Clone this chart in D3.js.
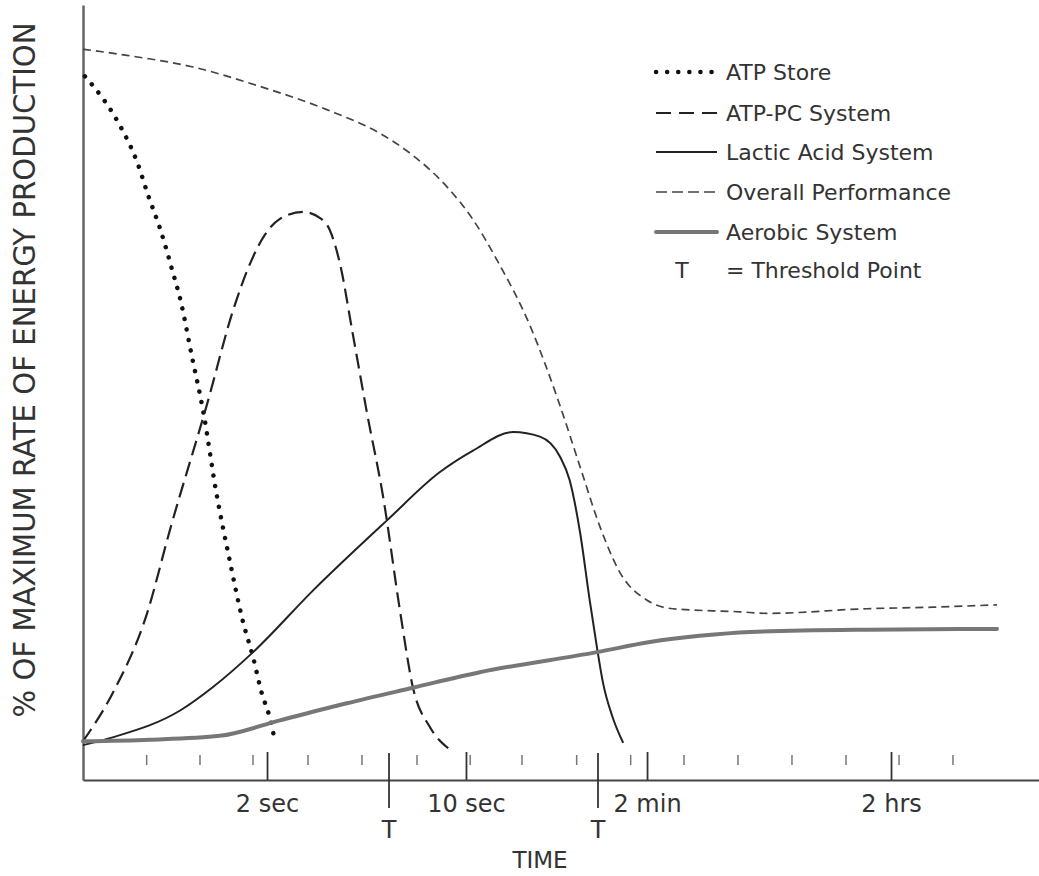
<!DOCTYPE html>
<html lang="en">
<head>
  <meta charset="UTF-8">
  <title>Energy Systems Over Time</title>
  <script src="https://d3js.org/d3.v7.min.js"></script>
  <style>
    body { margin: 0; background: #fff; }
    svg text { font-family: "DejaVu Sans", sans-serif; fill: #333; }
  </style>
</head>
<body>
  <svg id="chart" width="1039" height="876"></svg>
  <script>
    // time position (0-100 along the axis) and % of max rate (0-100)
    const atpStore = [
      [0.2, 90.8], [1.1, 89.5], [3.7, 84.8], [5.7, 79.6], [6.8, 75.5], [8.1, 71.0],
      [9.4, 65.5], [10.2, 61.9], [11.4, 54.6], [12.6, 47.4], [13.9, 37.4], [15.4, 28.0],
      [16.7, 20.6], [17.8, 15.8], [18.7, 11.2], [19.5, 8.2], [20.0, 5.5]
    ];
    const atpPc = [
      [0, 5.0], [3.1, 11.2], [6.7, 21.5], [9.1, 32.3], [13.0, 48.6],
      [15.7, 60.6], [17.5, 66.7], [19.0, 70.3], [20.6, 72.4], [23.0, 73.3], [24.8, 72.5],
      [25.8, 71.0], [26.9, 66.5], [28.2, 57.7], [29.7, 47.4], [31.4, 36.5], [33.2, 21.5],
      [34.5, 12.0], [36.3, 6.8], [38.2, 4.1]
    ];
    const lacticAcid = [
      [0, 4.5], [3.1, 5.5], [10.2, 9.0], [13.6, 12.0], [17.8, 16.5], [24.1, 24.5],
      [31.8, 33.5], [37.3, 39.7], [40.8, 42.5], [45.0, 44.9], [47.8, 44.3], [49.9, 41.7],
      [50.9, 38.7], [52.0, 31.9], [53.0, 23.2], [53.8, 16.8], [54.4, 12.5], [55.4, 8.1],
      [56.5, 4.8]
    ];
    const overall = [
      [0, 94.3], [4.6, 93.5], [11.5, 92.0], [18.5, 89.5], [25.5, 86.5], [31.1, 83.4],
      [34.5, 80.6], [38.1, 76.5], [40.8, 72.3], [43.3, 67.1], [46.8, 58.5], [49.7, 49.0],
      [52.0, 40.4], [54.1, 32.6], [56.2, 26.7], [59.0, 23.2], [61.7, 22.1], [68.7, 21.7],
      [71.6, 21.5], [82.0, 22.1], [88.9, 22.3], [95.6, 22.6]
    ];
    const aerobic = [
      [0, 5.0], [7.0, 5.2], [14.3, 5.7], [20.6, 7.7], [27.6, 9.9], [34.5, 11.9],
      [41.5, 13.9], [53.8, 16.5], [59.3, 17.8], [64.5, 18.6], [69.8, 19.1], [82.0, 19.4],
      [95.6, 19.5]
    ];

    const timeLabels = ["2 sec", "10 sec", "2 min", "2 hrs"];
    const timeTicks = [19.25, 40.06, 59.0, 84.52];
    const minorTicks = [6.66, 12.24, 17.78, 23.54, 29.18, 34.94, 40.5, 45.92, 51.64,
                        57.29, 62.87, 68.51, 74.16, 79.81, 85.36, 91.0];
    const thresholds = [32.01, 53.87];

    const series = [
      { name: "ATP Store", data: atpStore, color: "#111", width: 4.5, dash: "0.1 10.5", cap: "round", legendDash: "0.1 11" },
      { name: "ATP-PC System", data: atpPc, color: "#222", width: 2.2, dash: "15 7", cap: "butt", legendDash: "15 8" },
      { name: "Lactic Acid System", data: lacticAcid, color: "#222", width: 2, dash: null, cap: "butt", legendDash: null },
      { name: "Overall Performance", data: overall, color: "#444", width: 1.7, dash: "8 5", cap: "butt", legendDash: "11 5" },
      { name: "Aerobic System", data: aerobic, color: "#777", width: 4, dash: null, cap: "round", legendDash: null }
    ];

    const svg = d3.select("#chart");
    const x = d3.scaleLinear().domain([0, 100]).range([83, 1039]);
    const y = d3.scaleLinear().domain([0, 100]).range([780, 5]);

    // axes
    svg.append("g")
      .attr("transform", `translate(${x(0)},0)`)
      .call(d3.axisLeft(y).tickValues([]).tickSizeOuter(0))
      .call(g => g.select(".domain").attr("stroke", "#666").attr("stroke-width", 2.5));

    const xAxis = svg.append("g")
      .attr("transform", `translate(0,${y(0)})`)
      .call(d3.axisBottom(x).tickValues(timeTicks).tickSizeInner(-28).tickSizeOuter(0)
        .tickPadding(15).tickFormat((d, i) => timeLabels[i]));
    xAxis.select(".domain").attr("stroke", "#444").attr("stroke-width", 2);
    xAxis.selectAll(".tick line").attr("stroke", "#333").attr("stroke-width", 1.8);
    xAxis.selectAll(".tick text").style("font-size", "24px")
      .style("font-family", "DejaVu Sans, sans-serif").attr("fill", "#333");

    // small ticks floating above the axis
    svg.append("g").selectAll("line")
      .data(minorTicks)
      .join("line")
      .attr("x1", d => x(d)).attr("x2", d => x(d))
      .attr("y1", y(0) - 25).attr("y2", y(0) - 15)
      .attr("stroke", "#777").attr("stroke-width", 1.5);

    // threshold markers
    const th = svg.append("g").selectAll("g").data(thresholds).join("g");
    th.append("line")
      .attr("x1", d => x(d)).attr("x2", d => x(d))
      .attr("y1", y(0) - 27).attr("y2", y(0) + 28)
      .attr("stroke", "#333").attr("stroke-width", 1.8);
    th.append("text")
      .attr("x", d => x(d)).attr("y", 838)
      .attr("text-anchor", "middle").style("font-size", "24px")
      .text("T");

    // curves
    const line = d3.line()
      .x(d => x(d[0])).y(d => y(d[1]))
      .curve(d3.curveMonotoneX);

    svg.append("g").selectAll("path")
      .data(series)
      .join("path")
      .attr("d", d => line(d.data))
      .attr("fill", "none")
      .attr("stroke", d => d.color)
      .attr("stroke-width", d => d.width)
      .attr("stroke-dasharray", d => d.dash)
      .attr("stroke-linecap", d => d.cap);

    // legend
    const rows = [72, 113, 152, 192, 232];
    const legend = svg.append("g");
    const item = legend.selectAll("g").data(series).join("g")
      .attr("transform", (d, i) => `translate(0,${rows[i]})`);
    item.append("line")
      .attr("x1", 656).attr("x2", 717)
      .attr("stroke", d => d.color)
      .attr("stroke-width", d => d.width)
      .attr("stroke-dasharray", d => d.legendDash)
      .attr("stroke-linecap", d => d.cap);
    item.append("text")
      .attr("x", 726).attr("dy", "0.36em")
      .style("font-size", "22px")
      .text(d => d.name);

    const tRow = legend.append("g").attr("transform", "translate(0,270)");
    tRow.append("text").attr("x", 682).attr("dy", "0.36em")
      .attr("text-anchor", "middle").style("font-size", "22px").text("T");
    tRow.append("text").attr("x", 726).attr("dy", "0.36em")
      .style("font-size", "22px").text("= Threshold Point");

    // axis titles
    svg.append("text")
      .attr("x", 540).attr("y", 868)
      .attr("text-anchor", "middle").style("font-size", "23px")
      .text("TIME");

    svg.append("text")
      .attr("transform", "translate(35,370) rotate(-90)")
      .attr("text-anchor", "middle")
      .attr("textLength", 695).attr("lengthAdjust", "spacingAndGlyphs")
      .style("font-size", "30px")
      .text("% OF MAXIMUM RATE OF ENERGY PRODUCTION");
  </script>
</body>
</html>
